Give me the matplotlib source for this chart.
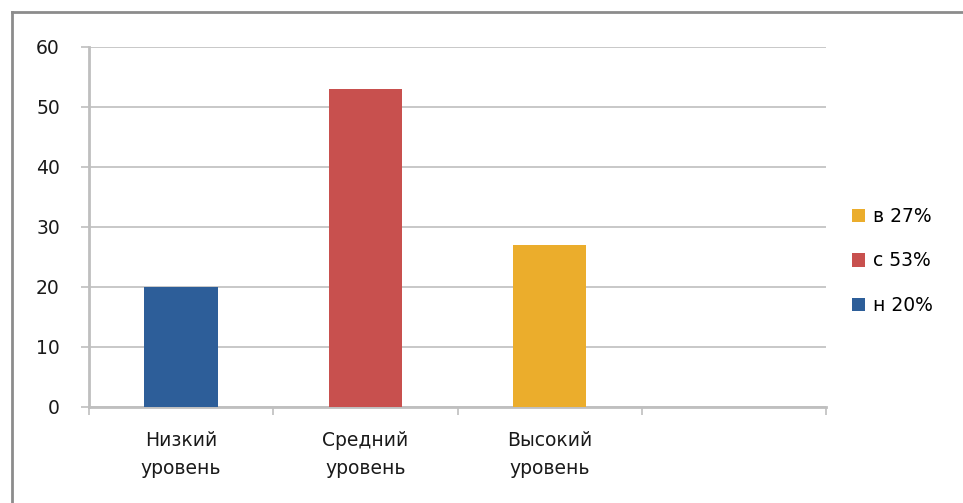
import matplotlib.pyplot as plt
from matplotlib.lines import Line2D
from matplotlib.patches import Patch

categories = ["Низкий\nуровень", "Средний\nуровень", "Высокий\nуровень"]
values = [20, 53, 27]
bar_colors = ["#2D5E99", "#C8504E", "#EBAD2C"]
legend_labels = ["в 27%", "с 53%", "н 20%"]
legend_colors = ["#EBAD2C", "#C8504E", "#2D5E99"]
y_ticks = [0, 10, 20, 30, 40, 50, 60]
n_slots = 4

plt.rcParams["font.family"] = ["DejaVu Sans"]

fig = plt.figure(figsize=(9.63, 5.03), dpi=100)
ax = fig.add_axes([89 / 963, 96 / 503, (826 - 89) / 963, (407 - 47) / 503])

grid_c = "#BFBFBF"
txt_c = "#1A1A1A"
ax.bar(range(len(values)), values, width=0.4, color=bar_colors, zorder=3)

ax.set_xlim(-0.5, n_slots - 0.5)
ax.set_ylim(0, 60)
ax.set_yticks(y_ticks)
ax.set_yticklabels([str(t) for t in y_ticks], fontsize=13.5, color=txt_c)
ax.yaxis.grid(True, color=grid_c, lw=1.2, zorder=0)

ax.set_xticks(range(len(categories)))
ax.set_xticklabels(categories, fontsize=13.5, color=txt_c, linespacing=1.6)
ax.tick_params(axis="x", length=0, pad=17)
ax.set_xticks([i - 0.5 for i in range(n_slots + 1)], minor=True)
ax.tick_params(axis="x", which="minor", length=6, color=grid_c, width=1.2)
ax.tick_params(axis="y", length=6, color=grid_c, width=1.2, pad=15)

for s in ["top", "right"]:
    ax.spines[s].set_visible(False)
for s in ["left", "bottom"]:
    ax.spines[s].set_color(grid_c)
    ax.spines[s].set_linewidth(2)

handles = [Patch(facecolor=c, edgecolor="none") for c in legend_colors]
fig.legend(handles, legend_labels, loc="center left",
           bbox_to_anchor=(835 / 963, 1 - 261 / 503), frameon=False,
           prop={"size": 13.5}, handlelength=0.7, handleheight=0.7,
           labelspacing=1.35, handletextpad=0.45)

# outer chart frame (top and left edges visible)
fig.add_artist(Line2D([12 / 963, 12 / 963], [0, 1 - 12 / 503],
                      transform=fig.transFigure, color="#8C8C8C", lw=2))
fig.add_artist(Line2D([12 / 963, 1], [1 - 12 / 503, 1 - 12 / 503],
                      transform=fig.transFigure, color="#8C8C8C", lw=2))

fig.savefig("out.png", dpi=100)
